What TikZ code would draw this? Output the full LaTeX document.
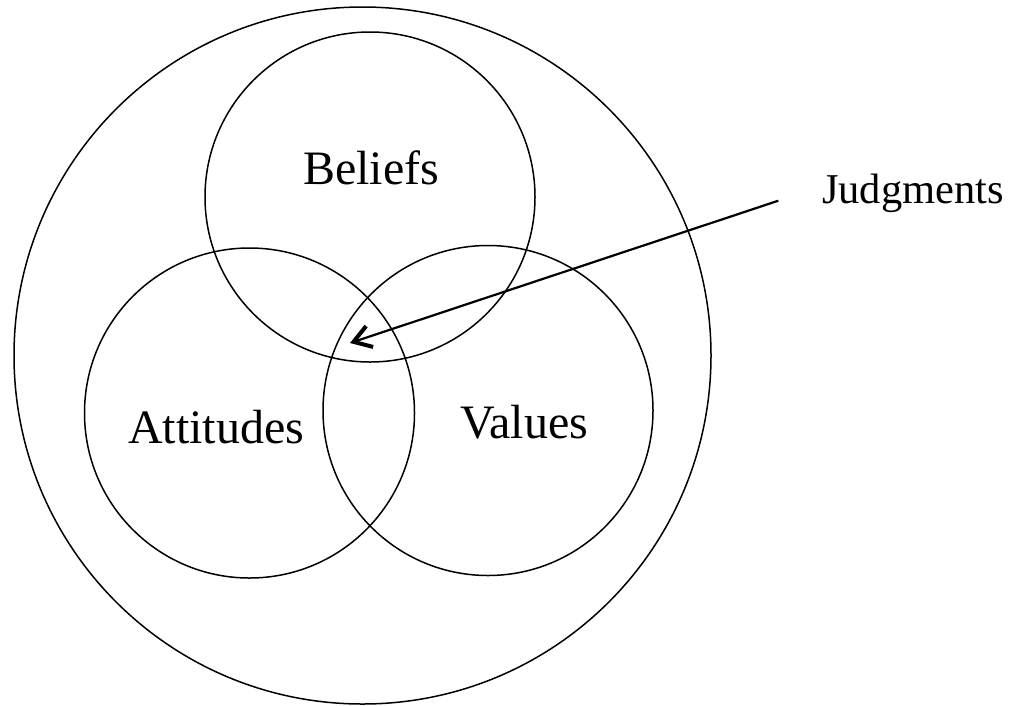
\documentclass[tikz,border=0pt]{standalone}
\usepackage{fontspec}
\setmainfont{Liberation Serif}
\usetikzlibrary{arrows.meta,positioning}

\begin{document}
\begin{tikzpicture}[x=1pt,y=-1pt,line width=1.5pt]
    \tikzstyle{set}=[circle, draw, inner sep=0pt, minimum size=330pt]
    \tikzstyle{word}=[anchor=base, inner sep=0pt, font=\fontsize{48}{58}\selectfont]
    \useasboundingbox (0,0) rectangle (1011,705);

    \node[set, minimum size=697pt] (whole)     at (362.5,355.5) {};
    \node[set]                     (beliefs)   at (370,197)     {};
    \node[set]                     (attitudes) at (249.5,413)   {};
    \node[set]                     (values)    at (488,410.5)   {};

    \node[word] (bel) at (371,184)   {Beliefs};
    \node[word] (att) at (216,443)   {Attitudes};
    \node[word] (val) at (524,438.5) {Values};
    \node[word, font=\fontsize{42.5}{50}\selectfont] (judg) at (913,203) {Judgments};

    \coordinate (core) at (350,343);
    \draw[line width=2.2pt, -{Straight Barb[length=17pt, width=22pt, line width=4pt]}]
      ([xshift=-43pt, yshift=2.3pt]judg.base west) -- (core);

\end{tikzpicture}
\end{document}
